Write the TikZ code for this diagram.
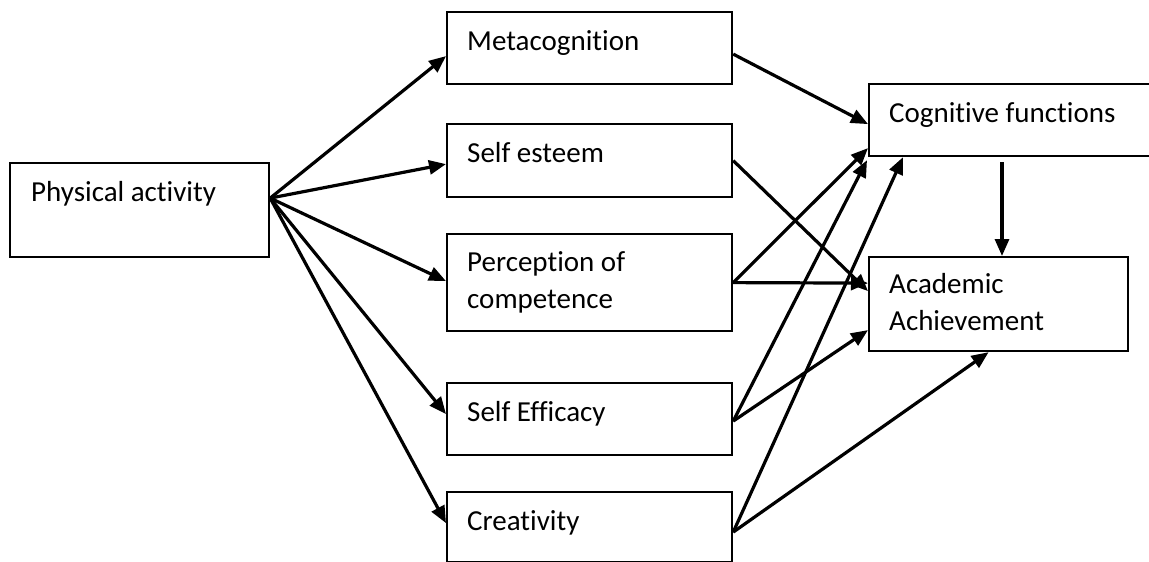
\documentclass[tikz,border=0pt]{standalone}
\usepackage{fontspec}
\setmainfont{Carlito}[Ligatures=NoCommon]
\usetikzlibrary{arrows.meta}
\begin{document}
\begin{tikzpicture}[x=1pt,y=-1pt,
  box/.style={draw=black, line width=2.2pt, fill=white, rectangle, anchor=north west, inner sep=0pt},
  lbl/.style={font=\fontsize{29}{37}\selectfont, anchor=base west, inner sep=0pt, align=left},
  arr/.style={line width=3.2pt, -{Triangle[length=17pt,width=14pt]}, line join=round}]
\useasboundingbox (0,0) rectangle (1149,562);
% boxes
\node[box, minimum width=259pt, minimum height=94pt] (pa) at (9,162) {};
\node[box, minimum width=285pt, minimum height=72pt] (meta) at (446,11) {};
\node[box, minimum width=285pt, minimum height=73pt] (se) at (446,123) {};
\node[box, minimum width=285pt, minimum height=97pt] (pc) at (446,233) {};
\node[box, minimum width=285pt, minimum height=72pt] (sef) at (446,382) {};
\node[box, minimum width=285pt, minimum height=70pt] (cr) at (446,491) {};
\node[box, minimum width=295pt, minimum height=72pt] (cf) at (868,83) {};
\node[box, minimum width=259pt, minimum height=94pt] (aa) at (868,256) {};
% texts
\node[lbl] (tpa) at ([xshift=22pt,yshift=-39pt]pa.north west) {Physical activity};
\node[lbl] (tmeta) at ([xshift=21pt,yshift=-39pt]meta.north west) {Metacognition};
\node[lbl] (tse) at ([xshift=21pt,yshift=-39pt]se.north west) {Self esteem};
\node[lbl] (tpc) at ([xshift=21pt,yshift=-75pt]pc.north west) {Perception of\\competence};
\node[lbl] (tsef) at ([xshift=21pt,yshift=-39pt]sef.north west) {Self Efficacy};
\node[lbl] (tcr) at ([xshift=21pt,yshift=-39pt]cr.north west) {Creativity};
\node[lbl] (tcf) at ([xshift=21pt,yshift=-39pt]cf.north west) {Cognitive functions};
\node[lbl] (taa) at ([xshift=21pt,yshift=-74pt]aa.north west) {Academic\\Achievement};
% arrows from physical activity
\draw[arr] ([yshift=12pt]pa.east) -- ([yshift=-8pt]meta.west);
\draw[arr] ([yshift=12pt]pa.east) -- ([yshift=-3.5pt]se.west);
\draw[arr] ([yshift=12pt]pa.east) -- ([yshift=1.5pt]pc.west);
\draw[arr] ([yshift=12pt]pa.east) -- ([yshift=5pt]sef.west);
\draw[arr] ([yshift=12pt]pa.east) -- ([yshift=4pt]cr.west);
% to cognitive functions
\draw[arr] ([yshift=-6pt]meta.east) -- ([yshift=-4pt]cf.west);
\draw[arr] (pc.east) -- ([yshift=-28pt]cf.west);
\draw[arr] ([yshift=-2pt]sef.east) -- ([xshift=-1pt,yshift=-3pt]cf.south west);
\draw[arr] ([yshift=-5pt]cr.east) -- ([xshift=35pt]cf.south west);
% to academic achievement
\draw[arr] (se.east) -- ([yshift=13pt]aa.west);
\draw[arr] (pc.east) -- ([yshift=21pt]aa.west);
\draw[arr] ([yshift=-2pt]sef.east) -- ([yshift=-26pt]aa.west);
\draw[arr] ([yshift=-5pt]cr.east) -- ([xshift=-10pt]aa.south);
\draw[arr] ([xshift=134pt,yshift=-5pt]cf.south west) -- ([xshift=134pt]aa.north west);
\end{tikzpicture}
\end{document}
